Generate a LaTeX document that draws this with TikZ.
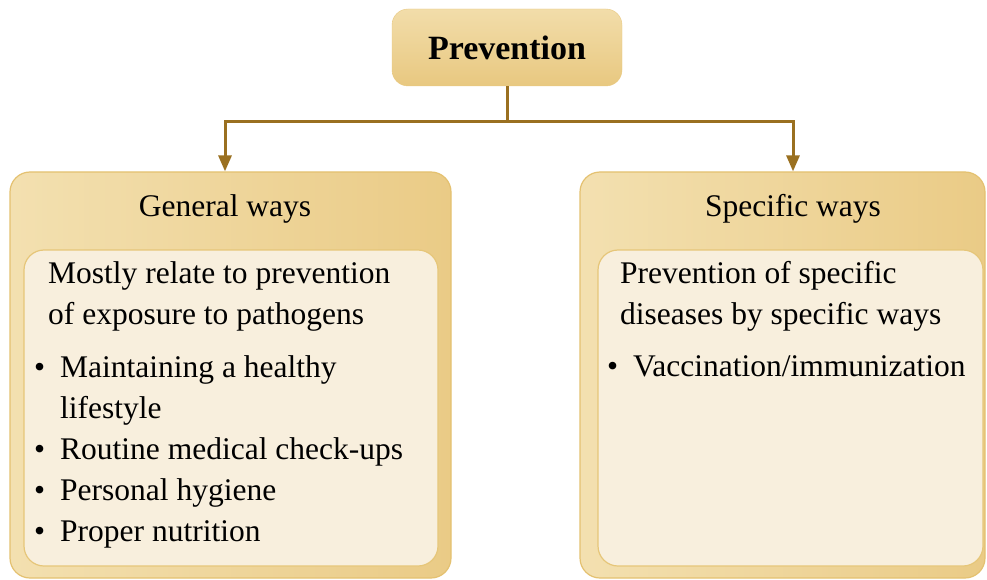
\documentclass[tikz,border=0pt]{standalone}
\usepackage{fontspec}
\setmainfont{Liberation Serif}
\usetikzlibrary{arrows.meta,positioning}

\definecolor{linebrown}{HTML}{9A7020}
\definecolor{headtop}{HTML}{F2DDAA}
\definecolor{headbot}{HTML}{E8C880}
\definecolor{outerleft}{HTML}{F3E0B0}
\definecolor{outerright}{HTML}{EACB86}
\definecolor{outerline}{HTML}{E4C170}
\definecolor{innerfill}{HTML}{F8EFDD}
\definecolor{innerline}{HTML}{E6C679}

\begin{document}
\begin{tikzpicture}[x=1pt, y=-1pt, every node/.style={inner sep=0pt, align=left},
	headbox/.style={rounded corners=16pt, minimum width=230pt, minimum height=77pt, top color=headtop, bottom color=headbot, draw=headbot, font=\fontsize{34}{40}\selectfont\bfseries},
	outerbox/.style={rounded corners=20pt, left color=outerleft, right color=outerright, draw=outerline, line width=1.2pt},
	innerbox/.style={rounded corners=20pt, fill=innerfill, draw=innerline, line width=1.2pt},
	titletext/.style={font=\fontsize{31.5}{36}\selectfont},
	bodytext/.style={anchor=north west, font=\fontsize{31.5}{41}\selectfont},
	conn/.style={draw=linebrown, line width=3pt}]
	\useasboundingbox (0,0) rectangle (987,580);

	\node[headbox] (prev) at (507,47.5) {Prevention};

	% left column
	\node[outerbox, minimum width=441pt, minimum height=406pt] (gen) at (230.5,375) {};
	\node[innerbox, minimum width=414pt, minimum height=316pt] (geninner) at (231,408) {};
	\node[titletext] (gtitle) at (225,209) {General ways};
	\node[bodytext] (gtext) at (48,261) {Mostly relate to prevention\\of exposure to pathogens};
	\node[bodytext] (glist) at (34,355) {\makebox[26pt][l]{\textbullet}Maintaining a healthy\\
		\hspace*{26pt}lifestyle\\
		\makebox[26pt][l]{\textbullet}Routine medical check-ups\\
		\makebox[26pt][l]{\textbullet}Personal hygiene\\
		\makebox[26pt][l]{\textbullet}Proper nutrition};

	% right column
	\node[outerbox, minimum width=405pt, minimum height=406pt] (spec) at (782.5,375) {};
	\node[innerbox, minimum width=385pt, minimum height=316pt] (specinner) at (790.5,408) {};
	\node[titletext] (stitle) at (793,209) {Specific ways};
	\node[bodytext] (stext) at (620,261) {Prevention of specific\\diseases by specific ways};
	\node[bodytext] (slist) at (607,355) {\makebox[26pt][l]{\textbullet}Vaccination/immunization};

	% connectors
	\coordinate (split) at (prev.south |- 0,122);
	\draw[conn] (prev.south) -- (split);
	\draw[conn, -{Triangle[length=16pt, width=13pt]}] (split) -| (gtitle |- gen.north);
	\draw[conn, -{Triangle[length=16pt, width=13pt]}] (split) -| (stitle |- spec.north);
\end{tikzpicture}
\end{document}
